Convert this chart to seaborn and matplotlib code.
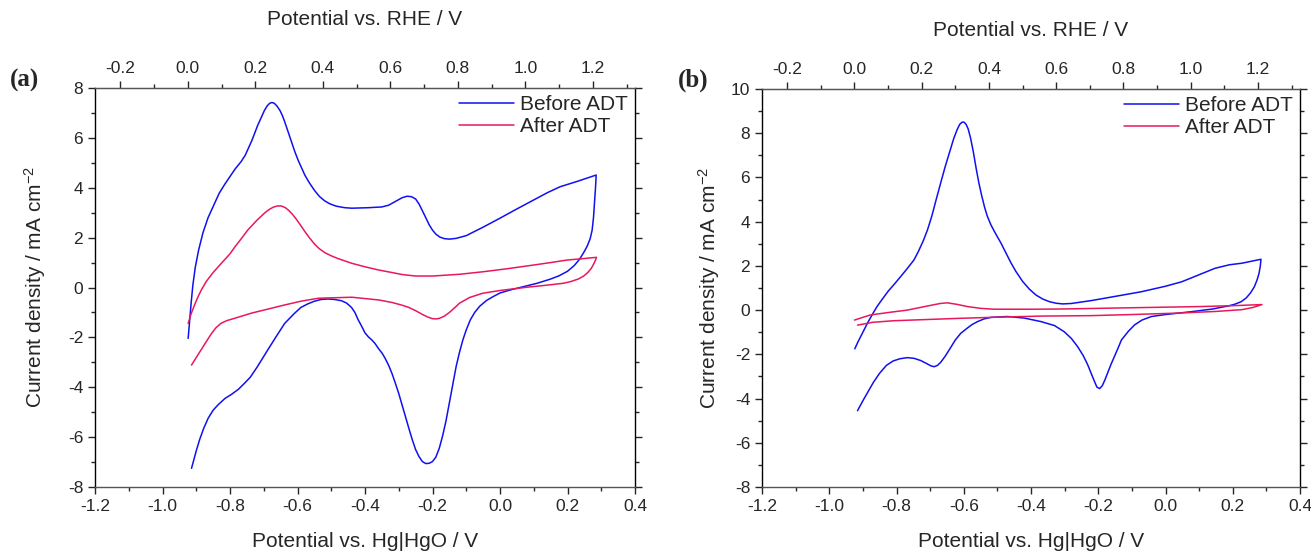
import numpy as np
import pandas as pd
import seaborn as sns
import matplotlib.pyplot as plt
from matplotlib.ticker import MultipleLocator, FixedLocator

# offset between the two reference electrodes (RHE = Hg|HgO + offset)
offset = 0.925

# ---- panel (a) : Before ADT (anodic then cathodic sweep)
a_before_E = [-0.924, -0.92, -0.915, -0.91, -0.903, -0.893, -0.88, -0.865, -0.848, -0.832,
              -0.815, -0.80, -0.785, -0.767, -0.755, -0.745, -0.735, -0.727, -0.718, -0.708,
              -0.698, -0.69, -0.683, -0.676, -0.669, -0.661, -0.652, -0.645, -0.638, -0.628,
              -0.618, -0.608, -0.598, -0.588, -0.578, -0.565, -0.55, -0.535, -0.52, -0.505,
              -0.485, -0.46, -0.439, -0.39, -0.35, -0.33, -0.31, -0.29, -0.275, -0.262,
              -0.25, -0.24, -0.23, -0.22, -0.21, -0.2, -0.19, -0.178, -0.165, -0.15,
              -0.13, -0.1, -0.05, 0.0, 0.05, 0.1, 0.14, 0.178, 0.23, 0.285,
              0.283, 0.28, 0.277, 0.273, 0.267, 0.258, 0.248, 0.235, 0.22, 0.2,
              0.175, 0.148, 0.11, 0.069, 0.03, 0.0, -0.021, -0.04, -0.06, -0.075,
              -0.088, -0.1, -0.11, -0.12, -0.13, -0.14, -0.15, -0.16, -0.17, -0.18,
              -0.19, -0.2, -0.21, -0.22, -0.23, -0.24, -0.25, -0.26, -0.27, -0.28,
              -0.29, -0.30, -0.31, -0.32, -0.33, -0.34, -0.349, -0.36, -0.37, -0.38,
              -0.39, -0.40, -0.41, -0.42, -0.43, -0.44, -0.455, -0.47, -0.49, -0.51,
              -0.53, -0.55, -0.57, -0.59, -0.61, -0.638, -0.66, -0.688, -0.72, -0.74,
              -0.757, -0.775, -0.795, -0.815, -0.835, -0.85, -0.865, -0.878, -0.89, -0.90,
              -0.914]
a_before_j = [-2.04, -1.4, -0.6, 0.1, 0.8, 1.5, 2.2, 2.8, 3.3, 3.78,
              4.15, 4.45, 4.75, 5.05, 5.3, 5.6, 5.9, 6.18, 6.5, 6.8,
              7.1, 7.28, 7.38, 7.42, 7.39, 7.28, 7.1, 6.9, 6.65, 6.25,
              5.85, 5.45, 5.1, 4.8, 4.5, 4.2, 3.9, 3.65, 3.48, 3.36,
              3.26, 3.2, 3.18, 3.2, 3.23, 3.3, 3.45, 3.6, 3.66, 3.64,
              3.55, 3.35, 3.08, 2.8, 2.52, 2.3, 2.14, 2.02, 1.96, 1.94,
              1.97, 2.08, 2.42, 2.78, 3.15, 3.51, 3.8, 4.04, 4.26, 4.51,
              4.0, 3.4, 2.8, 2.3, 1.95, 1.65, 1.4, 1.12, 0.88, 0.65,
              0.47, 0.33, 0.17, 0.03, -0.1, -0.22, -0.37, -0.52, -0.75, -1.0,
              -1.3, -1.7, -2.1, -2.6, -3.17, -3.9, -4.64, -5.35, -5.95, -6.45,
              -6.8, -6.98, -7.05, -7.06, -6.98, -6.78, -6.5, -6.1, -5.65, -5.18,
              -4.7, -4.25, -3.84, -3.45, -3.12, -2.85, -2.64, -2.45, -2.25, -2.1,
              -1.98, -1.82, -1.55, -1.3, -1.0, -0.8, -0.62, -0.53, -0.48, -0.46,
              -0.48, -0.55, -0.66, -0.8, -1.05, -1.44, -1.9, -2.5, -3.2, -3.6,
              -3.84, -4.08, -4.28, -4.45, -4.7, -4.92, -5.25, -5.65, -6.1, -6.55,
              -7.25]

# ---- panel (a) : After ADT
a_after_E = [-0.924, -0.915, -0.905, -0.895, -0.885, -0.87, -0.85, -0.827, -0.8, -0.787,
             -0.767, -0.747, -0.72, -0.698, -0.685, -0.672, -0.66, -0.648, -0.636, -0.625,
             -0.614, -0.603, -0.59, -0.578, -0.565, -0.55, -0.535, -0.518, -0.5, -0.48,
             -0.439, -0.4, -0.359, -0.32, -0.29, -0.25, -0.2, -0.12, -0.051, 0.02,
             0.099, 0.15, 0.198, 0.24, 0.286,
             0.283, 0.278, 0.27, 0.26, 0.248, 0.232, 0.21, 0.188, 0.13, 0.079,
             0.0, -0.051, -0.09, -0.12, -0.135, -0.15, -0.165, -0.18, -0.19, -0.2,
             -0.215, -0.23, -0.25, -0.27, -0.29, -0.32, -0.359, -0.439, -0.538, -0.59,
             -0.638, -0.737, -0.79, -0.81, -0.827, -0.842, -0.855, -0.867, -0.88, -0.895,
             -0.914]
a_after_j = [-1.44, -1.05, -0.7, -0.38, -0.1, 0.25, 0.6, 0.95, 1.35, 1.6,
             1.95, 2.31, 2.7, 2.98, 3.12, 3.22, 3.27, 3.27, 3.2, 3.08,
             2.92, 2.73, 2.48, 2.24, 2.0, 1.75, 1.55, 1.39, 1.27, 1.16,
             0.97, 0.83, 0.7, 0.6, 0.52, 0.46, 0.46, 0.53, 0.63, 0.75,
             0.9, 1.0, 1.1, 1.15, 1.21,
             1.1, 0.95, 0.76, 0.6, 0.46, 0.34, 0.24, 0.17, 0.08, 0.01,
             -0.12, -0.23, -0.4, -0.63, -0.82, -1.0, -1.15, -1.24, -1.26, -1.25,
             -1.18, -1.08, -0.93, -0.8, -0.71, -0.6, -0.5, -0.39, -0.43, -0.55,
             -0.7, -1.03, -1.25, -1.33, -1.44, -1.62, -1.85, -2.1, -2.38, -2.7,
             -3.11]

# ---- panel (b) : Before ADT
b_before_E = [-0.924, -0.915, -0.905, -0.895, -0.885, -0.872, -0.858, -0.842, -0.825, -0.805,
              -0.788, -0.768, -0.748, -0.735, -0.72, -0.708, -0.695, -0.682, -0.669, -0.655,
              -0.642, -0.63, -0.62, -0.612, -0.605, -0.599, -0.593, -0.587, -0.58, -0.572,
              -0.563, -0.555, -0.547, -0.538, -0.53, -0.519, -0.505, -0.49, -0.475, -0.46,
              -0.445, -0.425, -0.405, -0.385, -0.365, -0.345, -0.325, -0.305, -0.28, -0.221,
              -0.15, -0.072, 0.0, 0.048, 0.1, 0.147, 0.19, 0.227, 0.284,
              0.282, 0.278, 0.272, 0.264, 0.253, 0.24, 0.225, 0.205, 0.187, 0.14,
              0.078, 0.0, -0.042, -0.07, -0.092, -0.11, -0.131, -0.142, -0.152, -0.162,
              -0.171, -0.18, -0.188, -0.196, -0.204, -0.212, -0.221, -0.232, -0.245, -0.261,
              -0.28, -0.301, -0.33, -0.37, -0.42, -0.47, -0.52, -0.54, -0.559, -0.575,
              -0.59, -0.609, -0.625, -0.64, -0.655, -0.668, -0.678, -0.688, -0.698, -0.71,
              -0.728, -0.748, -0.768, -0.79, -0.81, -0.83, -0.85, -0.868, -0.885, -0.9,
              -0.916]
b_before_j = [-1.75, -1.45, -1.15, -0.85, -0.55, -0.2, 0.16, 0.5, 0.85, 1.2,
              1.51, 1.88, 2.27, 2.65, 3.15, 3.62, 4.25, 5.0, 5.73, 6.5,
              7.15, 7.75, 8.15, 8.4, 8.5, 8.5, 8.4, 8.2, 7.8, 7.2,
              6.4, 5.75, 5.2, 4.65, 4.25, 3.85, 3.45, 3.05, 2.6, 2.15,
              1.75, 1.3, 0.95, 0.68, 0.5, 0.38, 0.31, 0.28, 0.3, 0.43,
              0.62, 0.83, 1.08, 1.28, 1.6, 1.89, 2.05, 2.12, 2.3,
              2.0, 1.65, 1.35, 1.05, 0.78, 0.55, 0.38, 0.26, 0.19, 0.05,
              -0.07, -0.2, -0.29, -0.45, -0.67, -0.95, -1.35, -1.75, -2.1, -2.45,
              -2.8, -3.15, -3.42, -3.55, -3.48, -3.2, -2.86, -2.45, -2.05, -1.66,
              -1.28, -0.98, -0.7, -0.52, -0.36, -0.29, -0.33, -0.4, -0.52, -0.65,
              -0.82, -1.05, -1.35, -1.72, -2.08, -2.35, -2.5, -2.56, -2.52, -2.42,
              -2.28, -2.18, -2.15, -2.2, -2.3, -2.5, -2.85, -3.25, -3.7, -4.1,
              -4.55]

# ---- panel (b) : After ADT
b_after_E = [-0.925, -0.878, -0.82, -0.768, -0.71, -0.67, -0.649, -0.62, -0.589, -0.55,
             -0.51, -0.4, -0.31, -0.2, -0.05, 0.1, 0.2, 0.287,
             0.26, 0.227, 0.15, 0.027, -0.1, -0.221, -0.37, -0.5, -0.609, -0.7,
             -0.808, -0.87, -0.916]
b_after_j = [-0.45, -0.22, -0.1, 0.0, 0.18, 0.3, 0.33, 0.26, 0.16, 0.08,
             0.04, 0.04, 0.05, 0.08, 0.12, 0.16, 0.2, 0.25,
             0.12, 0.02, -0.06, -0.14, -0.2, -0.25, -0.27, -0.32, -0.37, -0.42,
             -0.48, -0.55, -0.68]

labels = ["Before ADT", "After ADT"]
colors = ["#1010F0", "#E8195A"]
top_ticks = [-0.2, 0.0, 0.2, 0.4, 0.6, 0.8, 1.0, 1.2]

sns.set_style("ticks")
plt.rcParams['font.family'] = ['Liberation Sans', 'DejaVu Sans']
plt.rcParams['mathtext.fontset'] = 'custom'
plt.rcParams['mathtext.rm'] = 'Liberation Sans'
plt.rcParams['mathtext.it'] = 'Liberation Sans'
plt.rcParams['axes.unicode_minus'] = False

fig = plt.figure(figsize=(13.11, 5.52), dpi=100)
ax_a = fig.add_axes([95 / 1311, 65 / 552, 540 / 1311, 399 / 552])
ax_b = fig.add_axes([762 / 1311, 65 / 552, 538 / 1311, 398 / 552])

panels = [
    (ax_a, a_before_E, a_before_j, a_after_E, a_after_j, (-8, 8), "(a)", 26, 10, 14),
    (ax_b, b_before_E, b_before_j, b_after_E, b_after_j, (-8, 10), "(b)", 18.5, 678, 6),
]

for ax, bE, bj, aE, aj, ylim, tag, toppad, tagx, ypad in panels:
    for E, j, lab, col in [(bE, bj, labels[0], colors[0]), (aE, aj, labels[1], colors[1])]:
        df = pd.DataFrame({"E": E, "j": j})
        sns.lineplot(data=df, x="E", y="j", sort=False, estimator=None,
                     color=col, lw=1.1, label=lab, ax=ax)

    ax.set_xlim(-1.2, 0.4)
    ax.set_ylim(*ylim)
    ax.xaxis.set_major_locator(MultipleLocator(0.2))
    ax.xaxis.set_minor_locator(MultipleLocator(0.1))
    ax.yaxis.set_major_locator(MultipleLocator(2))
    ax.yaxis.set_minor_locator(MultipleLocator(1))
    ax.xaxis.set_major_formatter(plt.FuncFormatter(lambda v, p: f"{v:.1f}"))
    ax.tick_params(which='both', direction='out', labelsize=12.5, width=1,
                   top=False, right=True, labelright=False)
    ax.tick_params(which='major', length=5)
    ax.tick_params(which='minor', length=3)
    for s in ['left', 'right']:
        ax.spines[s].set_color('black')
    for s in ['top', 'bottom']:
        ax.spines[s].set_color('#555555')
    for s in ax.spines.values():
        s.set_linewidth(1.0)

    ax.set_xlabel("Potential vs. Hg|HgO / V", fontsize=15, labelpad=13)
    ax.set_ylabel("Current density / mA cm$^{-2}$", fontsize=15, labelpad=ypad)

    top = ax.secondary_xaxis('top', functions=(lambda x: x + offset, lambda x: x - offset))
    top.xaxis.set_major_locator(FixedLocator(top_ticks))
    top.xaxis.set_minor_locator(MultipleLocator(0.1))
    top.xaxis.set_major_formatter(plt.FuncFormatter(lambda v, p: f"{v:.1f}"))
    top.tick_params(which='both', direction='out', labelsize=12.5, width=1)
    top.tick_params(which='major', length=5)
    top.tick_params(which='minor', length=3)
    top.spines['top'].set_color('#555555')
    top.set_xlabel("Potential vs. RHE / V", fontsize=15, labelpad=toppad)

    ax.legend(loc='upper right', frameon=False, fontsize=15, handlelength=2.6,
              handletextpad=0.3, labelspacing=0.12, borderaxespad=0.1, borderpad=0.25)

    fig.text(tagx / 1311, 1 - 80 / 552, tag, fontsize=18, fontweight='bold',
             family=['Liberation Serif', 'DejaVu Serif'], ha='left', va='center')

fig.savefig("out.png", dpi=100)
